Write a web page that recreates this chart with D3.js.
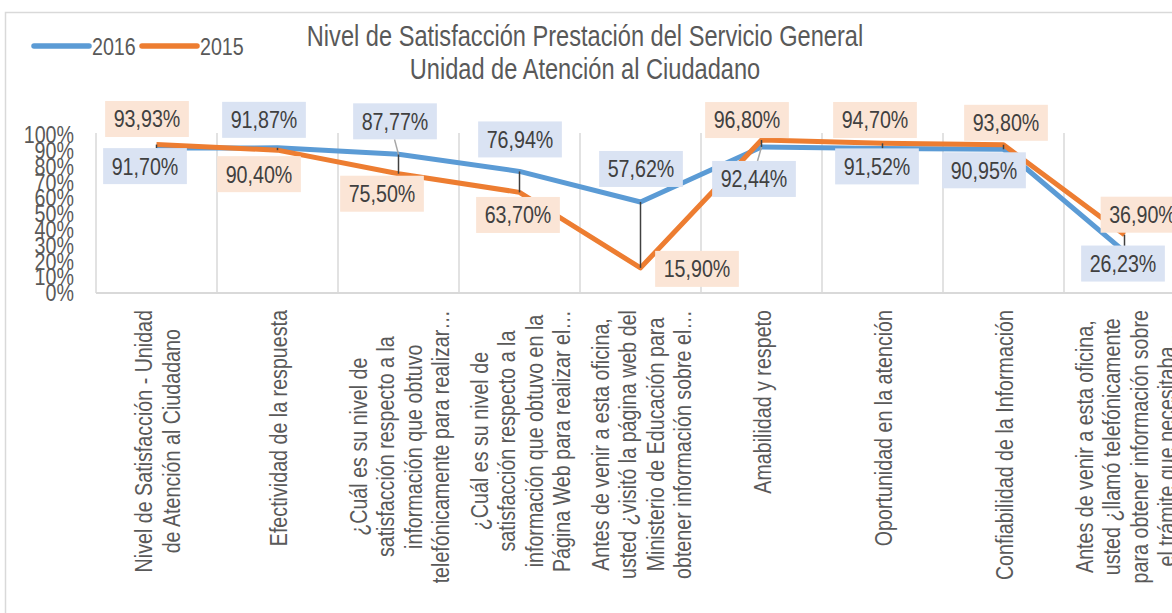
<!DOCTYPE html>
<html>
<head>
<meta charset="utf-8">
<script src="https://cdnjs.cloudflare.com/ajax/libs/d3/7.8.5/d3.min.js"></script>
<style>
  body { margin: 0; background: #fff; overflow: hidden; }
  text { font-family: "Liberation Sans", Arial, sans-serif; }
</style>
</head>
<body>
<div id="container"></div>
<script>
let w = 1172;
let h = 613;

// category labels, one entry per line (excel cuts the long ones with …)
let categories = [
  ["Nivel de Satisfacción - Unidad", "de Atención al Ciudadano"],
  ["Efectividad de la respuesta"],
  ["¿Cuál es su nivel de", "satisfacción respecto a la", "información que obtuvo", "telefónicamente para realizar…"],
  ["¿Cuál es su nivel de", "satisfacción respecto a la", "información que obtuvo en la", "Página Web para realizar el…"],
  ["Antes de venir a esta oficina,", "usted ¿visitó la página web del", "Ministerio de Educación para", "obtener información sobre el…"],
  ["Amabilidad y respeto"],
  ["Oportunidad en la atención"],
  ["Confiabilidad de la Información"],
  ["Antes de venir a esta oficina,", "usted ¿llamó telefónicamente", "para obtener información sobre", "el trámite que necesitaba…"]
];

let values2016 = [91.70, 91.87, 87.77, 76.94, 57.62, 92.44, 91.52, 90.95, 26.23];
let values2015 = [93.93, 90.40, 75.50, 63.70, 15.90, 96.80, 94.70, 93.80, 36.90];

let yTicks = [0, 10, 20, 30, 40, 50, 60, 70, 80, 90, 100];

let titleLines = ["Nivel de Satisfacción Prestación del Servicio General", "Unidad de Atención al Ciudadano"];

// where excel left the data labels (offset from the point, px)
let nudge2016 = [[-11.5, 18], [-13.5, -28], [-3.5, -33], [0.5, -32], [0.5, -33], [-7.5, 32], [-5.5, 18], [-19.5, 21], [-1.5, 12]];
let nudge2015 = [[-9.5, -25.6], [-18.5, 24], [-16.5, 20], [-1.5, 22.6], [56.5, 1], [-14.5, -20], [-7.5, -23.4], [2.5, -22], [18, -20]];
let leader2016 = [2, 5];

let series = [
  { name: "2016", values: values2016, color: "#5b9bd5", box: "#dae3f3", nudge: nudge2016, leaders: leader2016 },
  { name: "2015", values: values2015, color: "#ed7d31", box: "#fbe5d6", nudge: nudge2015, leaders: [] }
];

// arial narrow is roughly arial squeezed to 82%
let squeeze = 0.82;

let viz = d3.select("#container")
  .append("svg")
    .attr("width", w)
    .attr("height", h)
    .style("display", "block")
;

// chart frame
viz.append("rect")
  .attr("x", 5.5).attr("y", 12.5)
  .attr("width", w + 50).attr("height", h + 50)
  .attr("fill", "#fff")
  .attr("stroke", "#d9d9d9")
  .attr("stroke-width", 1.5)
;

let plotLeft = 96;
let bandW = 121;
let plotTop = 135;
let plotBottom = 293;

let xScale = d3.scaleBand()
  .domain(d3.range(categories.length))
  .range([plotLeft, plotLeft + bandW * categories.length])
  .padding(0);

let yScale = d3.scaleLinear().domain([0, 100]).range([plotBottom, plotTop]);

function cx(i){ return xScale(i) + xScale.bandwidth() / 2; }

function fmt(v){ return d3.format(".2f")(v).replace(".", ",") + "%"; }

// vertical gridlines at the category edges
let edges = d3.range(categories.length + 1).map(function(i){ return plotLeft + i * xScale.bandwidth(); });
viz.append("g").attr("class", "grid")
  .selectAll("line").data(edges).enter().append("line")
    .attr("x1", function(d){ return d; })
    .attr("x2", function(d){ return d; })
    .attr("y1", plotTop - 2)
    .attr("y2", plotBottom)
    .attr("stroke", "#d9d9d9")
    .attr("stroke-width", 1.5)
;

// x axis line
viz.append("line")
  .attr("x1", plotLeft).attr("x2", w + 10)
  .attr("y1", plotBottom).attr("y2", plotBottom)
  .attr("stroke", "#d9d9d9")
  .attr("stroke-width", 2)
;

// y axis, labels only
let yAxis = d3.axisLeft(yScale)
  .tickValues(yTicks)
  .tickSize(0)
  .tickPadding(22)
  .tickFormat(function(d){ return d + "%"; });
let yAxisGroup = viz.append("g").attr("class", "yaxis")
  .attr("transform", "translate(" + plotLeft + ",0)")
  .call(yAxis);
yAxisGroup.select(".domain").remove();
yAxisGroup.selectAll("text")
  .attr("fill", "#595959")
  .style("font-size", "24px")
  .attr("x", -22 / squeeze)
  .attr("transform", "scale(" + squeeze + ",1)")
;

// category labels, rotated, block pushed against the axis
let catGroups = viz.append("g").attr("class", "xlabels")
  .selectAll("g").data(categories).enter().append("g")
    .attr("transform", function(d, i){ return "translate(" + (cx(i) + 1) + ",310) rotate(-90) scale(" + squeeze + ",1)"; })
;
catGroups.each(function(lines){
  let g = d3.select(this);
  let texts = g.selectAll("text").data(lines).enter().append("text")
    .text(function(d){ return d; })
    .attr("y", function(d, k){ return (k - (lines.length - 1) / 2) * 27.6; })
    .attr("dy", "0.35em")
    .attr("text-anchor", "middle")
    .attr("fill", "#595959")
    .style("font-size", "24px");
  let maxW = d3.max(texts.nodes(), function(n){ return n.getComputedTextLength(); });
  texts.attr("x", -maxW / 2);
});

// lines
let line = d3.line()
  .x(function(d, i){ return cx(i); })
  .y(function(d){ return yScale(d); });

viz.append("g").attr("class", "lines")
  .selectAll("path").data(series).enter().append("path")
    .attr("d", function(d){ return line(d.values); })
    .attr("fill", "none")
    .attr("stroke", function(d){ return d.color; })
    .attr("stroke-width", 5)
    .attr("stroke-linejoin", "round")
;

// high-low lines
viz.append("g").attr("class", "hilo")
  .selectAll("line").data(categories).enter().append("line")
    .attr("x1", function(d, i){ return cx(i); })
    .attr("x2", function(d, i){ return cx(i); })
    .attr("y1", function(d, i){ return yScale(Math.max(values2016[i], values2015[i])); })
    .attr("y2", function(d, i){ return yScale(Math.min(values2016[i], values2015[i])); })
    .attr("stroke", "#404040")
    .attr("stroke-width", 1.5)
;

// data labels
let labelData = [];
series.forEach(function(s){
  s.values.forEach(function(v, i){
    labelData.push({
      v: v, s: s, i: i,
      px: cx(i), py: yScale(v),
      lx: cx(i) + s.nudge[i][0], ly: yScale(v) + s.nudge[i][1],
      leader: s.leaders.indexOf(i) >= 0
    });
  });
});

let labelGroup = viz.append("g").attr("class", "labels");
let leaderGroup = labelGroup.append("g");

let labels = labelGroup.selectAll(".lab").data(labelData).enter().append("g")
  .attr("class", "lab")
  .attr("transform", function(d){ return "translate(" + d.lx + "," + d.ly + ")"; })
;
let boxes = labels.append("rect").attr("fill", function(d){ return d.s.box; });
let labTexts = labels.append("text")
  .text(function(d){ return fmt(d.v); })
  .attr("text-anchor", "middle")
  .attr("dy", "0.35em")
  .attr("fill", "#404040")
  .attr("transform", "scale(" + squeeze + ",1)")
  .style("font-size", "24px")
;
labTexts.each(function(d){ d.tw = this.getComputedTextLength() * squeeze; });
boxes
  .attr("x", function(d){ return -d.tw / 2 - 8.5; })
  .attr("y", -18)
  .attr("width", function(d){ return d.tw + 17; })
  .attr("height", 36)
;

// leader lines from the box to the point
leaderGroup.selectAll("line").data(labelData.filter(function(d){ return d.leader; })).enter().append("line")
  .attr("x1", function(d){ return d.px; })
  .attr("y1", function(d){ return d.py; })
  .attr("x2", function(d){ return Math.max(d.lx - d.tw / 2 - 8.5, Math.min(d.px, d.lx + d.tw / 2 + 8.5)) - 4; })
  .attr("y2", function(d){ return Math.max(d.ly - 18, Math.min(d.py, d.ly + 18)); })
  .attr("stroke", "#a6a6a6")
  .attr("stroke-width", 1.5)
;

// title
viz.append("g").attr("class", "title")
  .selectAll("text").data(titleLines).enter().append("text")
    .text(function(d){ return d; })
    .attr("x", 585 / squeeze)
    .attr("y", function(d, i){ return 46 + i * 33; })
    .attr("text-anchor", "middle")
    .attr("fill", "#595959")
    .attr("transform", "scale(" + squeeze + ",1)")
    .style("font-size", "28.8px")
;

// legend
let legend = viz.append("g").attr("class", "legend")
  .selectAll("g").data(series).enter().append("g")
    .attr("transform", function(d, i){ return "translate(" + (34 + i * 108) + ",46)"; })
;
legend.append("line")
  .attr("x1", 0).attr("x2", 55)
  .attr("stroke", function(d){ return d.color; })
  .attr("stroke-width", 5.5)
  .attr("stroke-linecap", "round")
;
legend.append("text")
  .text(function(d){ return d.name; })
  .attr("x", 58 / squeeze)
  .attr("y", 8.5)
  .attr("fill", "#595959")
  .attr("transform", "scale(" + squeeze + ",1)")
  .style("font-size", "24px")
;
</script>
</body>
</html>
